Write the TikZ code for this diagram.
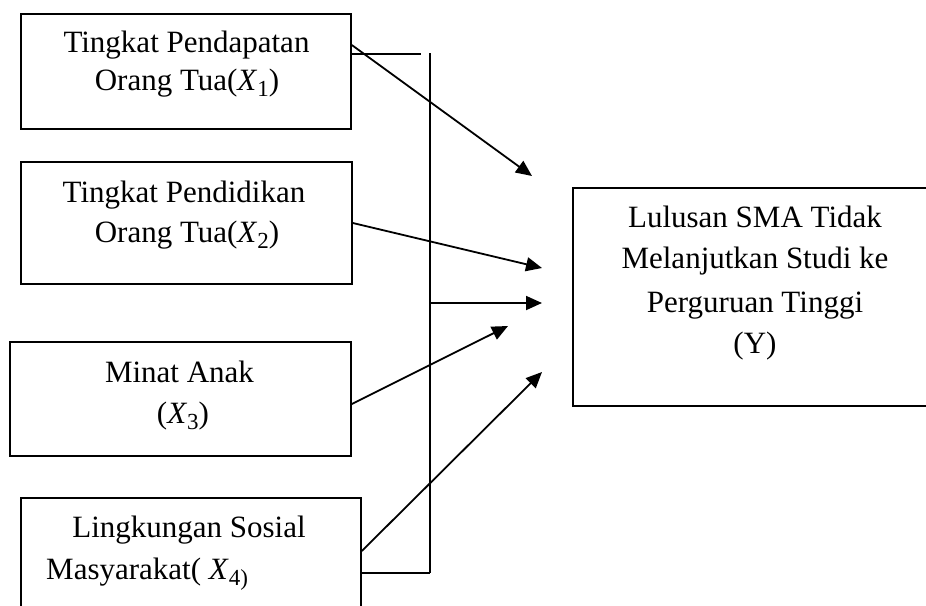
\documentclass[tikz,border=0pt]{standalone}
\usepackage{fontspec}
\setmainfont{Liberation Serif}
\usetikzlibrary{arrows.meta}
\newcommand\xsub[1]{\textit{X}\raisebox{-6pt}{\fontsize{23}{23}\selectfont #1}}
\tikzset{
  box/.style={draw, line width=1.8pt, rectangle, inner sep=0pt, anchor=north west},
  txt/.style={inner sep=0pt, anchor=base, font=\fontsize{31}{38}\selectfont},
  txtl/.style={inner sep=0pt, anchor=base west, font=\fontsize{31}{38}\selectfont},
  conn/.style={line width=1.8pt},
  arr/.style={line width=1.8pt, -{Triangle[length=16pt,width=14pt]}},
}
\begin{document}
\begin{tikzpicture}[x=1pt,y=-1pt]
\useasboundingbox (0,0) rectangle (926,605);
\clip (0,0) rectangle (926,605);
% boxes
\node[box, minimum width=330pt, minimum height=115pt] (b1) at (20,13) {};
\node[box, minimum width=331pt, minimum height=122pt] (b2) at (20,161) {};
\node[box, minimum width=341pt, minimum height=114pt] (b3) at (9,341) {};
\node[box, minimum width=340pt, minimum height=140pt] (b4) at (20,497) {};
\node[box, minimum width=364pt, minimum height=218pt] (y) at (572,187) {};
% texts
\node[txt] (t1a) at (186.5,52) {Tingkat Pendapatan};
\node[txt] (t1b) at (187,90) {Orang Tua(\xsub{1})};
\node[txt] (t2a) at (184,202) {Tingkat Pendidikan};
\node[txt] (t2b) at (187,242) {Orang Tua(\xsub{2})};
\node[txt] (t3a) at (179.5,382) {Minat Anak};
\node[txt] (t3b) at (183,423) {(\xsub{3})};
\node[txt] (t4a) at (189,537) {Lingkungan Sosial};
\node[txtl] (t4b) at (46,579) {Masyarakat( \xsub{4)}};
\node[txt] (ya) at (755,227) {Lulusan SMA Tidak};
\node[txt] (yb) at (755,268) {Melanjutkan Studi ke};
\node[txt] (yc) at (755,312) {Perguruan Tinggi};
\node[txt] (yd) at (755,353) {(Y)};
% bus coordinates
\coordinate (htop) at (421,54);
\coordinate (vtop) at (430,53);
\coordinate (vbot) at (430,573);
\coordinate (vmid) at (430,303);
\coordinate (tipm) at (542,303);
\coordinate (tip1) at (532,176);
\coordinate (tip2) at (542,268);
\coordinate (tip3) at (508,326);
\coordinate (tip4) at (542,372);
% connectors
\draw[conn] (b1.east |- htop) -- (htop);
\draw[conn] (vtop) -- (vbot);
\draw[conn] (b4.east |- vbot) -- (vbot);
\draw[arr] (vmid) -- (tipm);
\draw[arr] (b1.east |- 0,45) -- (tip1);
\draw[arr] (b2.east |- 0,223) -- (tip2);
\draw[arr] (b3.east |- 0,404) -- (tip3);
\draw[arr] (b4.east |- 0,551) -- (tip4);
\end{tikzpicture}
\end{document}
